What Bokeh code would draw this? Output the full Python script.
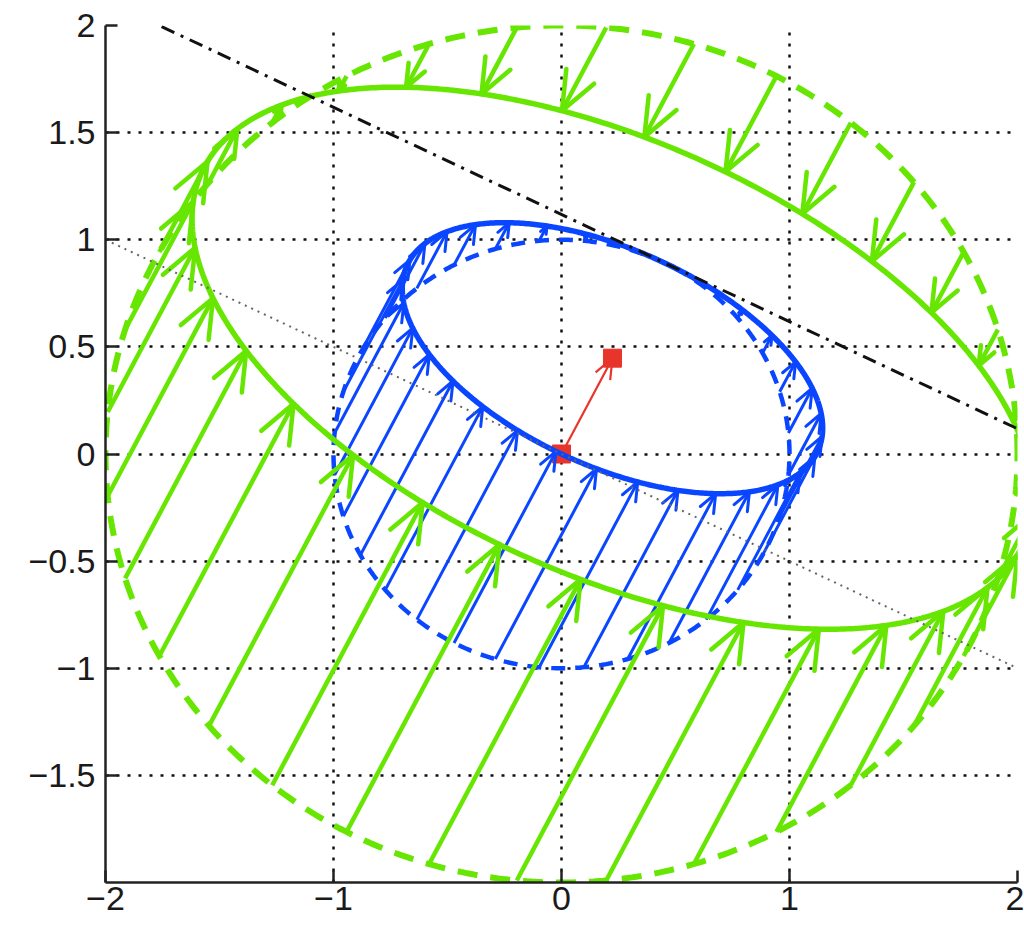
import numpy as np
from bokeh.plotting import figure
from bokeh.models import Range1d, FixedTicker
from bokeh.embed import file_html
from bokeh.resources import INLINE

# ---------------- data ----------------
x_ticks = [-2, -1, 0, 1, 2]
x_tick_labels = ["\u22122", "\u22121", "0", "1", "2"]
y_ticks = [-1.5, -1, -0.5, 0, 0.5, 1, 1.5, 2]
y_tick_labels = ["\u22121.5", "\u22121", "\u22120.5", "0", "0.5", "1", "1.5", "2"]

map_matrix = [[0.9, -0.2], [-0.2, 0.6]]      # linear part of the mapping
map_shift = [0.2236, 0.4472]                  # translation (red point)
circle_radii = [1.0, 2.0]                     # blue circle, green circle
arrow_count = 32                              # arrows per circle
plane_normal = [1.0, 2.0]                     # dash-dot line: n . p = offset
plane_offset = 2.236
dotted_line_x = [-2.0, 2.0]
dotted_line_y = [1.0, -1.0]

# ---------------- styling ----------------
GREEN = "#66e600"
BLUE = "#0a46ff"
RED = "#e8352b"
FRAME_W, FRAME_H = 912, 857
XMIN, XMAX, YMIN, YMAX = -2.0, 2.0, -2.0, 2.0
SX = FRAME_W / (XMAX - XMIN)
SY = FRAME_H / (YMAX - YMIN)

A = np.array(map_matrix)
b = np.array(map_shift)


def mapped(px, py):
    q = A @ np.vstack([px, py]) + b[:, None]
    return q[0], q[1]


def heads(x0, y0, x1, y1, ratio, cap, ang_deg):
    hx, hy = [], []
    ang = np.deg2rad(ang_deg)
    for a0, b0, a1, b1 in zip(x0, y0, x1, y1):
        dx, dy = (a1 - a0) * SX, (b1 - b0) * SY
        L = np.hypot(dx, dy)
        if L < 1e-9:
            continue
        h = min(ratio * L, cap)
        ux, uy = dx / L, dy / L
        pts_x, pts_y = [], []
        for s in (1, -1):
            c, sn = np.cos(s * ang), np.sin(s * ang)
            rx, ry = ux * c - uy * sn, ux * sn + uy * c
            pts_x.append(a1 - h * rx / SX)
            pts_y.append(b1 - h * ry / SY)
        hx.append([pts_x[0], a1, pts_x[1]])
        hy.append([pts_y[0], b1, pts_y[1]])
    return hx, hy


p = figure(frame_width=FRAME_W, frame_height=FRAME_H,
           x_range=Range1d(XMIN, XMAX), y_range=Range1d(YMIN, YMAX),
           output_backend="svg", toolbar_location=None,
           min_border_left=105, min_border_top=25, min_border_right=7,
           min_border_bottom=43)
p.outline_line_color = None
p.background_fill_color = "white"

# axes
p.xaxis.ticker = FixedTicker(ticks=x_ticks)
p.yaxis.ticker = FixedTicker(ticks=y_ticks)
p.xaxis.major_label_overrides = {t: l for t, l in zip(x_ticks, x_tick_labels)}
p.yaxis.major_label_overrides = {t: l for t, l in zip(y_ticks, y_tick_labels)}
for ax in (p.xaxis[0], p.yaxis[0]):
    ax.axis_line_color = "#222222"
    ax.axis_line_width = 2.5
    ax.major_tick_in = 12
    ax.major_tick_out = 0
    ax.major_tick_line_color = "#222222"
    ax.major_tick_line_width = 2.5
    ax.minor_tick_line_color = None
    ax.major_label_text_font = "Liberation Sans"
    ax.major_label_text_font_size = "34px"
    ax.major_label_text_color = "#1a1a1a"
p.xaxis.major_label_standoff = 4
p.yaxis.major_label_standoff = 10

for g in (p.xgrid[0], p.ygrid[0]):
    g.grid_line_color = "#111111"
    g.grid_line_width = 2.5
    g.grid_line_dash = "3 8"

# ---------------- geometry ----------------
t = np.linspace(0, 2 * np.pi, 600)
ta = (np.arange(arrow_count) + 0.5) * 2 * np.pi / arrow_count

# red arrow & squares (drawn first, below)
rx0, ry0, rx1, ry1 = [0.0], [0.0], [map_shift[0]], [map_shift[1]]
p.segment(rx0, ry0, rx1, ry1, line_color=RED, line_width=2.2)
hx, hy = heads(rx0, ry0, rx1, ry1, 0.4, 22, 22)
p.multi_line(hx, hy, line_color=RED, line_width=2.2)
p.scatter([0.0, map_shift[0]], [0.0, map_shift[1]], marker="square", size=18,
          fill_color=RED, line_color=RED)

styles = {
    1.0: dict(color=BLUE, dash_w=4.5, dash="14 10", ell_w=5.5, arr_w=3, cap=20, ang=22),
    2.0: dict(color=GREEN, dash_w=6, dash="20 13", ell_w=5.5, arr_w=4.5, cap=42, ang=22),
}

for r in circle_radii:
    st = styles[r]
    cx, cy = r * np.cos(t), r * np.sin(t)
    ex, ey = mapped(cx, cy)
    p.line(cx, cy, line_color=st["color"], line_width=st["dash_w"], line_dash=st["dash"])
    p.line(ex, ey, line_color=st["color"], line_width=st["ell_w"])
    ax0, ay0 = r * np.cos(ta), r * np.sin(ta)
    ax1, ay1 = mapped(ax0, ay0)
    p.segment(ax0, ay0, ax1, ay1, line_color=st["color"], line_width=st["arr_w"])
    hx, hy = heads(ax0, ay0, ax1, ay1, 0.5, st["cap"], st["ang"])
    p.multi_line(hx, hy, line_color=st["color"], line_width=st["arr_w"],
                 line_join="round", line_cap="round")

# dash-dot line n.p = offset
lx = np.array([XMIN, XMAX])
ly = (plane_offset - plane_normal[0] * lx) / plane_normal[1]
p.line(lx, ly, line_color="#111111", line_width=3, line_dash="14 7 3 7")

# thin gray dotted line
p.line(dotted_line_x, dotted_line_y, line_color="#666666", line_width=2,
       line_dash="2 5")

open("out.html", "w").write(file_html(p, INLINE))
